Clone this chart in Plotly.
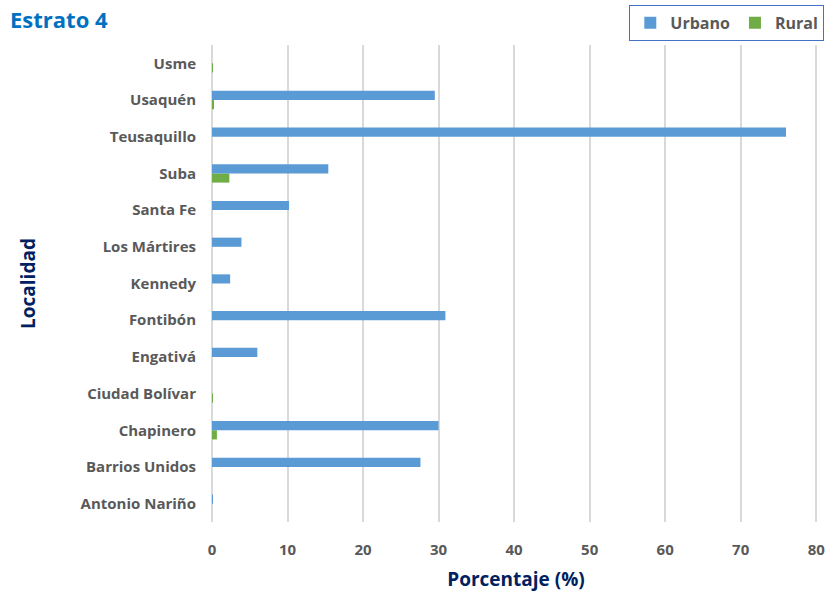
import plotly.graph_objects as go

localidades = [
    "Antonio Nariño", "Barrios Unidos", "Chapinero", "Ciudad Bolívar",
    "Engativá", "Fontibón", "Kennedy", "Los Mártires", "Santa Fe",
    "Suba", "Teusaquillo", "Usaquén", "Usme",
]
urbano = [0.1, 27.6, 30.0, 0.0, 6.0, 30.9, 2.4, 3.9, 10.2, 15.4, 76.0, 29.5, 0.0]
rural = [0.0, 0.0, 0.65, 0.1, 0.0, 0.0, 0.0, 0.0, 0.0, 2.3, 0.0, 0.2, 0.1]
x_ticks = [0, 10, 20, 30, 40, 50, 60, 70, 80]

FONT = "Open Sans"
GRAY = "#595959"
NAVY = "#002060"

fig = go.Figure()
# Rural trace added first so that Urbano sits above it within each group
fig.add_trace(go.Bar(
    y=localidades, x=rural, name="Rural", orientation="h",
    marker=dict(color="#70AD47", line=dict(width=0)),
))
fig.add_trace(go.Bar(
    y=localidades, x=urbano, name="Urbano", orientation="h",
    marker=dict(color="#5B9BD5", line=dict(width=0)),
))

fig.update_layout(
    width=836, height=593,
    margin=dict(l=212, r=16, t=45, b=71),
    paper_bgcolor="white", plot_bgcolor="white",
    barmode="group", bargap=0.5, bargroupgap=0,
    font=dict(family=FONT, color=GRAY),
    title=dict(
        text="<b>Estrato 4</b>", x=0.012, xanchor="left",
        y=0.966, yanchor="middle",
        font=dict(family=FONT, size=22, color="#0070C0"),
    ),
    legend=dict(
        orientation="h", traceorder="reversed",
        x=0.986, xanchor="right", xref="container",
        y=0.992, yanchor="top", yref="container",
        bordercolor="#4472C4", borderwidth=1,
        font=dict(family=FONT, size=16, color=GRAY, weight="bold"),
        itemwidth=30, tracegroupgap=0,
    ),
    xaxis=dict(
        automargin=False,
        range=[0, 80.5], tickvals=x_ticks, ticktext=[f"<b>{t}</b>" for t in x_ticks],
        showgrid=True, gridcolor="#D9D9D9", gridwidth=1.5,
        zeroline=True, zerolinecolor="#D9D9D9", zerolinewidth=1.5,
        showline=False, ticks="", ticklabelstandoff=17,
        tickfont=dict(family=FONT, size=15, color=GRAY),
        title=dict(text="<b>Porcentaje (%)</b>", standoff=14,
                   font=dict(family=FONT, size=19, color=NAVY)),
    ),
    yaxis=dict(
        automargin=False,
        categoryorder="array", categoryarray=localidades,
        tickvals=localidades, ticktext=[f"<b>{c}</b>" for c in localidades],
        showgrid=False, showline=False, ticks="",
        ticklabelstandoff=15,
        tickfont=dict(family=FONT, size=15, color=GRAY),
        title=dict(text="<b>Localidad</b>", standoff=39,
                   font=dict(family=FONT, size=19, color=NAVY)),
    ),
)

fig.write_html("out.html")
